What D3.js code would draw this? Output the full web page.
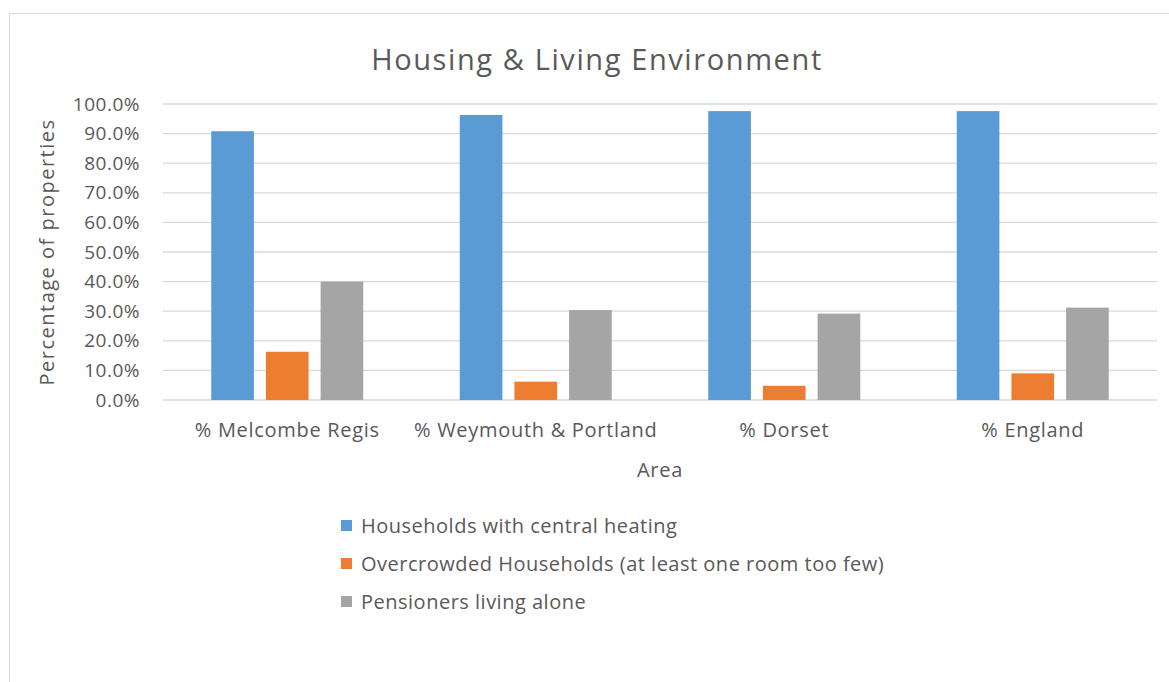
<!DOCTYPE html>
<html>
<head>
<meta charset="utf-8">
<script src="https://cdn.jsdelivr.net/npm/d3@7"></script>
<style>
  body { margin: 0; background: #fff; }
  text { font-family: "Open Sans", sans-serif; fill: #595959; }
</style>
</head>
<body>
<div id="chart"></div>
<script>
const width = 1169, height = 682;
const margin = { top: 104, right: 12, bottom: 282, left: 163 };
const innerWidth = width - margin.left - margin.right;
const innerHeight = height - margin.top - margin.bottom;

const areas = ['% Melcombe Regis', '% Weymouth & Portland', '% Dorset', '% England'];
const seriesNames = [
  'Households with central heating',
  'Overcrowded Households (at least one room too few)',
  'Pensioners living alone'
];
const centralHeating = [0.908, 0.963, 0.976, 0.976];
const overcrowded = [0.163, 0.062, 0.048, 0.090];
const pensionersAlone = [0.400, 0.304, 0.292, 0.312];
const yTicks = [0, 0.1, 0.2, 0.3, 0.4, 0.5, 0.6, 0.7, 0.8, 0.9, 1.0];
const colors = ['#5B9BD5', '#ED7D31', '#A5A5A5'];

const seriesValues = [centralHeating, overcrowded, pensionersAlone];

const svg = d3.select('#chart')
  .append('svg')
  .attr('width', width)
  .attr('height', height);

// chart frame
svg.append('path')
  .attr('d', `M9.5,${height} V13.5 H${width}`)
  .attr('fill', 'none')
  .attr('stroke', '#D9D9D9');

svg.append('text')
  .text('Housing & Living Environment')
  .attr('x', 597)
  .attr('y', 70)
  .attr('text-anchor', 'middle')
  .attr('font-size', '29px')
  .attr('letter-spacing', '1.6px');

const inner = svg.append('g')
  .attr('transform', `translate(${margin.left},${margin.top})`);

const x0 = d3.scaleBand().domain(areas).range([0, innerWidth]);
const groupW = 152;
const x1 = d3.scaleBand()
  .domain(d3.range(seriesNames.length))
  .range([(x0.bandwidth() - groupW) / 2, (x0.bandwidth() + groupW) / 2])
  .paddingInner(0.22);
const y = d3.scaleLinear().domain([0, 1]).range([innerHeight, 0]);

// gridlines
inner.append('g')
  .selectAll('line')
  .data(yTicks)
  .join('line')
    .attr('x1', 0)
    .attr('x2', innerWidth)
    .attr('y1', d => y(d))
    .attr('y2', d => y(d))
    .attr('stroke', '#D9D9D9')
    .attr('stroke-width', 1.3);

const groups = inner.selectAll('.grp')
  .data(areas)
  .join('g')
    .attr('class', 'grp')
    .attr('transform', d => `translate(${x0(d)},0)`);

groups.selectAll('rect')
  .data((d, i) => seriesValues.map((s, j) => ({ j, v: s[i] })))
  .join('rect')
    .attr('x', d => x1(d.j))
    .attr('width', x1.bandwidth())
    .attr('y', d => y(d.v))
    .attr('height', d => innerHeight - y(d.v))
    .attr('fill', d => colors[d.j]);

const leftAxis = d3.axisLeft(y)
  .tickValues(yTicks)
  .tickFormat(d3.format('.1%'))
  .tickSize(0)
  .tickPadding(23);

inner.append('g')
  .call(leftAxis)
  .call(g => g.select('.domain').remove())
  .selectAll('text')
    .attr('font-size', '19px')
    .attr('letter-spacing', '0.5px')
    .attr('font-family', '"Open Sans", sans-serif')
    .attr('fill', '#595959');

const bottomAxis = d3.axisBottom(x0).tickSize(0).tickPadding(23);
inner.append('g')
  .attr('transform', `translate(0,${innerHeight})`)
  .call(bottomAxis)
  .call(g => g.select('.domain').remove())
  .selectAll('text')
    .attr('font-size', '20px')
    .attr('letter-spacing', '0.7px')
    .attr('font-family', '"Open Sans", sans-serif')
    .attr('fill', '#595959');

svg.append('text')
  .text('Area')
  .attr('x', 660)
  .attr('y', 477)
  .attr('text-anchor', 'middle')
  .attr('font-size', '20px')
  .attr('letter-spacing', '0.7px');

svg.append('text')
  .text('Percentage of properties')
  .attr('transform', 'rotate(-90)')
  .attr('x', -252)
  .attr('y', 54)
  .attr('text-anchor', 'middle')
  .attr('font-size', '20px')
  .attr('letter-spacing', '1.5px');

// legend
const legend = svg.append('g').attr('transform', 'translate(341,526)');
const rows = legend.selectAll('g')
  .data(seriesNames)
  .join('g')
    .attr('transform', (d, i) => `translate(0,${i * 38})`);
rows.append('rect')
  .attr('x', 0)
  .attr('y', -6)
  .attr('width', 11)
  .attr('height', 11)
  .attr('fill', (d, i) => colors[i]);
rows.append('text')
  .text(d => d)
  .attr('x', 20)
  .attr('y', 7)
  .attr('font-size', '20px')
  .attr('letter-spacing', '0.5px');
</script>
</body>
</html>
